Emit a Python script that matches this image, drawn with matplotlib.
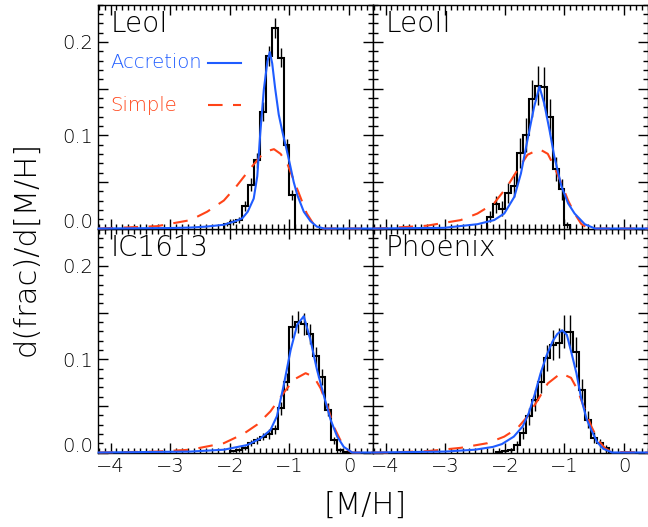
import numpy as np
import matplotlib
matplotlib.use("Agg")
import matplotlib.pyplot as plt

plt.rcParams['font.family'] = ['DejaVu Sans']
plt.rcParams['font.weight'] = 'light'

BIN = 0.1

# ---- LeoI ----
leo1_bin0 = -2.1
leo1_hist = [0.005, 0.007, 0.009, 0.024, 0.047, 0.073, 0.125, 0.185, 0.215, 0.183, 0.089, 0.036]
leo1_err = [0.002, 0.003, 0.003, 0.005, 0.007, 0.008, 0.010, 0.011, 0.011, 0.010, 0.007, 0.005]
leo1_acc_x = [-4.2, -3.0, -2.66, -2.4, -2.1, -1.9, -1.79, -1.7, -1.6, -1.54, -1.49, -1.43, -1.37, -1.33,
              -1.29, -1.24, -1.18, -1.12, -1.05, -0.99, -0.93, -0.87, -0.76, -0.65, -0.54, -0.42, 0.4]
leo1_acc_y = [0, 0.0005, 0.001, 0.002, 0.004, 0.008, 0.011, 0.018, 0.032, 0.056, 0.102, 0.149, 0.179, 0.189,
              0.177, 0.150, 0.122, 0.104, 0.085, 0.068, 0.050, 0.036, 0.018, 0.008, 0.002, 0, 0]
leo1_sim_x = [-4.2, -3.78, -3.22, -2.66, -2.38, -2.10, -1.88, -1.66, -1.49, -1.37, -1.26, -1.15, -1.04,
              -0.93, -0.82, -0.71, -0.60, -0.49, 0.4]
leo1_sim_y = [0, 0.001, 0.0025, 0.009, 0.018, 0.030, 0.046, 0.064, 0.077, 0.083, 0.085, 0.080, 0.070,
              0.052, 0.034, 0.016, 0.005, 0, 0]

# ---- LeoII ----
leo2_bin0 = -2.3
leo2_hist = [0.0125, 0.026, 0.021, 0.038, 0.046, 0.081, 0.100, 0.139, 0.153, 0.152, 0.120, 0.064, 0.042, 0.004]
leo2_err = [0.006, 0.009, 0.008, 0.011, 0.012, 0.016, 0.018, 0.020, 0.021, 0.021, 0.019, 0.013, 0.011, 0.003]
leo2_acc_x = [-4.2, -3.02, -2.46, -2.18, -2.01, -1.84, -1.73, -1.62, -1.51, -1.42, -1.34, -1.25, -1.17,
              -1.05, -0.94, -0.83, -0.66, -0.49, 0.4]
leo2_acc_y = [0, 0.0007, 0.0046, 0.009, 0.016, 0.034, 0.059, 0.095, 0.130, 0.152, 0.134, 0.105, 0.077,
              0.045, 0.027, 0.016, 0.0046, 0, 0]
leo2_sim_x = [-4.2, -3.98, -3.31, -2.74, -2.46, -2.18, -1.96, -1.79, -1.62, -1.42, -1.28, -1.17, -1.05,
              -0.94, -0.83, -0.72, -0.60, 0.4]
leo2_sim_y = [0, 0.0004, 0.003, 0.009, 0.016, 0.027, 0.045, 0.0625, 0.079, 0.085, 0.080, 0.066, 0.048,
              0.030, 0.016, 0.005, 0, 0]

# ---- IC1613 ----
ic_bin0 = -2.0
ic_hist = [0.002, 0.003, 0.005, 0.010, 0.013, 0.017, 0.020, 0.025, 0.0475, 0.076,
           0.135, 0.140, 0.138, 0.127, 0.103, 0.081, 0.046, 0.013, 0.003, 0.001]
ic_err = [0.001, 0.002, 0.002, 0.003, 0.004, 0.004, 0.005, 0.005, 0.007, 0.009,
          0.012, 0.012, 0.012, 0.011, 0.010, 0.009, 0.007, 0.004, 0.002, 0.001]
ic_acc_x = [-4.2, -2.66, -2.10, -1.71, -1.49, -1.32, -1.21, -1.10, -0.98, -0.87, -0.76, -0.65, -0.54,
            -0.42, -0.31, -0.20, -0.09, 0.05, 0.4]
ic_acc_y = [0, 0.001, 0.003, 0.008, 0.015, 0.024, 0.039, 0.071, 0.110, 0.137, 0.146, 0.121, 0.089,
            0.060, 0.035, 0.017, 0.006, 0, 0]
ic_sim_x = [-4.2, -3.22, -2.66, -2.10, -1.77, -1.54, -1.32, -1.10, -0.93, -0.73, -0.59, -0.48, -0.37,
            -0.26, -0.15, -0.03, 0.05, 0.4]
ic_sim_y = [0, 0.001, 0.003, 0.010, 0.020, 0.030, 0.044, 0.0636, 0.078, 0.085, 0.081, 0.069, 0.051,
            0.028, 0.0136, 0.003, 0, 0]

# ---- Phoenix ----
phx_bin0 = -2.15
phx_hist = [0.001, 0.002, 0.003, 0.008, 0.021, 0.039, 0.056, 0.076, 0.101, 0.115, 0.117,
            0.1295, 0.1295, 0.108, 0.067, 0.035, 0.016, 0.010, 0.005]
phx_err = [0.001, 0.002, 0.002, 0.004, 0.006, 0.009, 0.011, 0.012, 0.014, 0.016, 0.016,
           0.018, 0.018, 0.016, 0.012, 0.009, 0.006, 0.004, 0.003]
phx_acc_x = [-4.2, -3.0, -2.5, -2.2, -2.05, -1.85, -1.7, -1.6, -1.5, -1.4, -1.3, -1.2, -1.12, -1.04,
             -0.96, -0.88, -0.8, -0.72, -0.63, -0.55, -0.45, -0.35, -0.2, 0.4]
phx_acc_y = [0, 0.001, 0.003, 0.006, 0.009, 0.017, 0.028, 0.042, 0.062, 0.085, 0.104, 0.119, 0.127, 0.131,
             0.126, 0.106, 0.085, 0.058, 0.036, 0.024, 0.011, 0.004, 0, 0]
phx_sim_x = [-4.2, -3.98, -3.31, -2.74, -2.29, -2.01, -1.79, -1.62, -1.45, -1.28, -1.06, -0.89, -0.78,
             -0.66, -0.55, -0.44, -0.32, -0.21, 0.4]
phx_sim_y = [0, 0, 0.0014, 0.005, 0.010, 0.017, 0.026, 0.0386, 0.056, 0.074, 0.085, 0.080, 0.067,
             0.046, 0.028, 0.0136, 0.0046, 0.0007, 0]

names = ["LeoI", "LeoII", "IC1613", "Phoenix"]
xticks = [-4, -3, -2, -1, 0]
xticklabels = ["\u22124", "\u22123", "\u22122", "\u22121", "0"]
yticks = [0.0, 0.05, 0.1, 0.15, 0.2]
yticklabels = ["0.0", "", "0.1", "", "0.2"]

BLUE = "#1f5cff"
RED = "#ff4317"


def plot_panel(ax, name, bin0, hist, err, acc_x, acc_y, sim_x, sim_y):
    edges = bin0 + BIN * np.arange(len(hist) + 1)
    centers = edges[:-1] + BIN / 2
    ax.stairs(hist, edges, color="black", lw=1.5, zorder=3)
    ax.errorbar(centers, hist, yerr=err, fmt="none", ecolor="black", elinewidth=1, capsize=0, zorder=3)
    ax.plot(sim_x, sim_y, color=RED, lw=1.5, dashes=(7, 5), zorder=4, clip_on=False)
    ax.plot(acc_x, acc_y, color=BLUE, lw=1.5, zorder=5, clip_on=False)
    ax.set_xlim(-4.21, 0.40)
    ax.set_ylim(0, 0.24)
    ax.set_xticks(xticks)
    ax.set_xticks(np.arange(-4.2, 0.41, 0.1), minor=True)
    ax.set_yticks(yticks)
    ax.set_yticks(np.arange(0, 0.241, 0.01), minor=True)
    ax.tick_params(which="both", direction="in", top=True, right=True, width=1, labelsize=14)
    ax.tick_params(which="major", length=7)
    ax.tick_params(which="minor", length=3.5)
    for s in ax.spines.values():
        s.set_linewidth(1)
    ax.text(0.045, 0.975, name, transform=ax.transAxes, ha="left", va="top", fontsize=20)


fig = plt.figure(figsize=(6.48, 5.27), dpi=100)
w = 275 / 648
h = 224 / 527
ax_ll = fig.add_axes([98 / 648, 1 - 452.5 / 527, w, h])
ax_lr = fig.add_axes([373 / 648, 1 - 452.5 / 527, w, h])
ax_ul = fig.add_axes([98 / 648, 1 - 228.5 / 527, w, h])
ax_ur = fig.add_axes([373 / 648, 1 - 228.5 / 527, w, h])

plot_panel(ax_ul, names[0], leo1_bin0, leo1_hist, leo1_err, leo1_acc_x, leo1_acc_y, leo1_sim_x, leo1_sim_y)
plot_panel(ax_ur, names[1], leo2_bin0, leo2_hist, leo2_err, leo2_acc_x, leo2_acc_y, leo2_sim_x, leo2_sim_y)
plot_panel(ax_ll, names[2], ic_bin0, ic_hist, ic_err, ic_acc_x, ic_acc_y, ic_sim_x, ic_sim_y)
plot_panel(ax_lr, names[3], phx_bin0, phx_hist, phx_err, phx_acc_x, phx_acc_y, phx_sim_x, phx_sim_y)

for ax in [ax_ul, ax_ur]:
    ax.set_xticklabels([])
for ax in [ax_ll, ax_lr]:
    ax.set_xticklabels(xticklabels)
for ax in [ax_ul, ax_ll]:
    ax.set_yticklabels(yticklabels)
    # the 0.0 label sits on the bottom axis, as in the original
    ax.get_yticklabels()[0].set_verticalalignment("baseline")
for ax in [ax_ur, ax_lr]:
    ax.set_yticklabels([])

# legend in the LeoI panel
ax_ul.text(0.045, 0.74, "Accretion", transform=ax_ul.transAxes, color=BLUE, fontsize=14, va="center")
ax_ul.plot([0.40, 0.52], [0.74, 0.74], transform=ax_ul.transAxes, color=BLUE, lw=1.5)
ax_ul.text(0.045, 0.55, "Simple", transform=ax_ul.transAxes, color=RED, fontsize=14, va="center")
ax_ul.plot([0.40, 0.52], [0.55, 0.55], transform=ax_ul.transAxes, color=RED, lw=1.5, dashes=(7, 5))

fig.text(365 / 648, 1 - 505 / 527, "[M/H]", ha="center", va="center", fontsize=22)
fig.text(26 / 648, 1 - 248 / 527, "d(frac)/d[M/H]", ha="center", va="center", rotation=90, fontsize=22)

fig.savefig("out.png", dpi=100)
